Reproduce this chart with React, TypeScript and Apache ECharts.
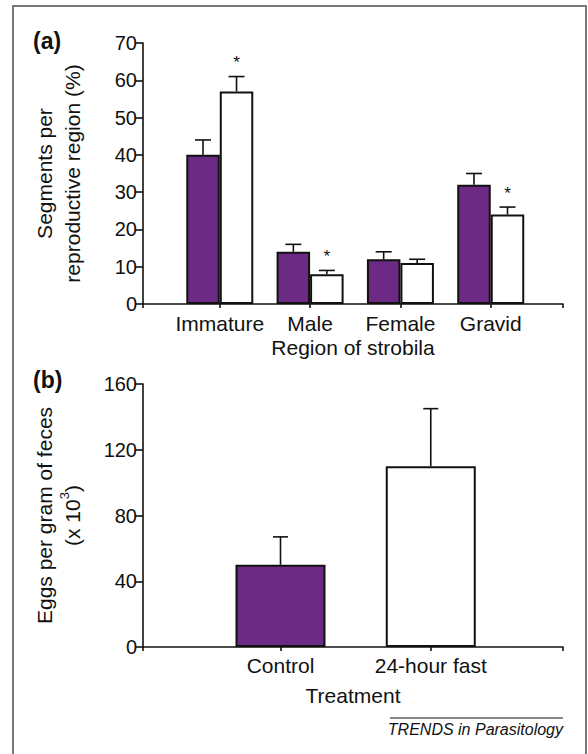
import React, { useEffect, useRef } from "react";
import * as echarts from "echarts";

// Panel (a): segments per reproductive region (%)
const categoriesA = ["Immature", "Male", "Female", "Gravid"];
const controlA = [40, 14, 12, 32];
const controlErrA = [4, 2, 2, 3];
const fastA = [57, 8, 11, 24];
const fastErrA = [4, 1, 1, 2];
const fastStarA = [1, 1, 0, 1];

// Panel (b): eggs per gram of feces (x10^3)
const categoriesB = ["Control", "24-hour fast"];
const valuesB = [50, 110];
const errB = [17, 35];

const PURPLE = "#6c2a84";
const INK = "#111";
const FONT = "Liberation Sans, Arial, Helvetica, sans-serif";

export default function App() {
  const ref = useRef<HTMLDivElement>(null);

  useEffect(() => {
    if (!ref.current) return;
    const chart = echarts.init(ref.current, undefined, { renderer: "svg" });

    const barWA = 33.5;
    const posA = categoriesA.map((_, i) => i + 1);
    const posB = categoriesB.map((_, i) => i + 1);

    const errRender = (capW: number) => (params: any, api: any) => {
      const x = api.value(0);
      const v = api.value(1);
      const e = api.value(2);
      const off = api.value(3);
      const star = api.value(4);
      const base = api.coord([x, v]);
      const top = api.coord([x, v + e]);
      const cx = base[0] + off;
      const children: any[] = [
        {
          type: "line",
          shape: { x1: cx, y1: base[1], x2: cx, y2: top[1] },
          style: { stroke: INK, lineWidth: 1.6 },
        },
        {
          type: "line",
          shape: { x1: cx - capW / 2, y1: top[1], x2: cx + capW / 2, y2: top[1] },
          style: { stroke: INK, lineWidth: 1.6 },
        },
      ];
      if (star) {
        children.push({
          type: "text",
          x: cx,
          y: top[1] - 14,
          style: {
            text: "*",
            fill: INK,
            font: `17px ${FONT}`,
            align: "center",
            verticalAlign: "middle",
          },
        });
      }
      return { type: "group", children };
    };

    const yAxisCommon = {
      type: "value",
      axisLine: { show: true, lineStyle: { color: INK, width: 1.6 } },
      axisTick: { show: true, length: 8, lineStyle: { color: INK, width: 1.6 } },
      axisLabel: { color: INK, fontSize: 20, fontFamily: FONT, margin: 6 },
      splitLine: { show: false },
      nameLocation: "middle",
      nameTextStyle: { color: INK, fontSize: 21, fontFamily: FONT, lineHeight: 28 },
    };

    const option: any = {
      animation: false,
      backgroundColor: "#fff",
      grid: [
        { left: 143, right: 25, top: 43, bottom: 450 },
        { left: 143, right: 25, top: 384, bottom: 107 },
      ],
      xAxis: [
        {
          type: "value",
          gridIndex: 0,
          min: 0.15,
          max: 4.8,
          axisLine: { show: true, onZero: false, lineStyle: { color: INK, width: 1.6 } },
          axisTick: {
            show: true,
            length: 4,
            customValues: [0.15, 1, 2, 3, 4, 4.8],
            lineStyle: { color: INK, width: 1.6 },
          },
          axisLabel: {
            customValues: posA,
            formatter: (v: number) => categoriesA[Math.round(v) - 1] || "",
            color: INK,
            fontSize: 21,
            fontFamily: FONT,
            margin: 9,
          },
          splitLine: { show: false },
          name: "Region of strobila",
          nameLocation: "middle",
          nameGap: 33,
          nameTextStyle: { color: INK, fontSize: 21, fontFamily: FONT },
        },
        {
          type: "value",
          gridIndex: 1,
          min: 0.085,
          max: 2.88,
          axisLine: { show: true, onZero: false, lineStyle: { color: INK, width: 1.6 } },
          axisTick: {
            show: true,
            length: 4,
            customValues: [0.085, 1, 2, 2.88],
            lineStyle: { color: INK, width: 1.6 },
          },
          axisLabel: {
            customValues: posB,
            formatter: (v: number) => categoriesB[Math.round(v) - 1] || "",
            color: INK,
            fontSize: 21,
            fontFamily: FONT,
            margin: 8,
          },
          splitLine: { show: false },
          name: "Treatment",
          nameLocation: "middle",
          nameGap: 38,
          nameTextStyle: { color: INK, fontSize: 21, fontFamily: FONT },
        },
      ],
      yAxis: [
        {
          ...yAxisCommon,
          gridIndex: 0,
          min: 0,
          max: 70,
          interval: 10,
          name: "Segments per\nreproductive region (%)",
          nameGap: 57,
        },
        {
          ...yAxisCommon,
          gridIndex: 1,
          min: 0,
          max: 160,
          interval: 40,
          name: "Eggs per gram of feces\n(x 10{sup|3})",
          nameGap: 57,
          nameTextStyle: {
            color: INK,
            fontSize: 21,
            fontFamily: FONT,
            lineHeight: 28,
            rich: {
              sup: { fontSize: 13, fontFamily: FONT, color: INK, verticalAlign: "top", lineHeight: 14, padding: [0, 0, 8, 0] },
            },
          },
        },
      ],
      series: [
        {
          type: "bar",
          xAxisIndex: 0,
          yAxisIndex: 0,
          barWidth: barWA,
          barGap: "0%",
          data: controlA.map((v, i) => [posA[i], v]),
          itemStyle: { color: PURPLE, borderColor: INK, borderWidth: 2 },
        },
        {
          type: "bar",
          xAxisIndex: 0,
          yAxisIndex: 0,
          barWidth: barWA,
          barGap: "0%",
          data: fastA.map((v, i) => [posA[i], v]),
          itemStyle: { color: "#fff", borderColor: INK, borderWidth: 2 },
        },
        {
          type: "custom",
          xAxisIndex: 0,
          yAxisIndex: 0,
          clip: false,
          encode: { x: 0, y: 1 },
          renderItem: errRender(16),
          data: [
            ...controlA.map((v, i) => [posA[i], v, controlErrA[i], -barWA / 2, 0]),
            ...fastA.map((v, i) => [posA[i], v, fastErrA[i], barWA / 2, fastStarA[i]]),
          ],
          z: 5,
        },
        {
          type: "bar",
          xAxisIndex: 1,
          yAxisIndex: 1,
          barWidth: 90,
          data: valuesB.map((v, i) => ({
            value: [posB[i], v],
            itemStyle: { color: i === 0 ? PURPLE : "#fff", borderColor: INK, borderWidth: 2 },
          })),
        },
        {
          type: "custom",
          xAxisIndex: 1,
          yAxisIndex: 1,
          clip: false,
          encode: { x: 0, y: 1 },
          renderItem: errRender(15),
          data: valuesB.map((v, i) => [posB[i], v, errB[i], 0, 0]),
          z: 5,
        },
      ],
      graphic: [
        {
          type: "rect",
          shape: { x: 13, y: 6, width: 573, height: 770 },
          style: { fill: "none", stroke: "#777", lineWidth: 2 },
          silent: true,
        },
        {
          type: "text",
          left: 33,
          top: 29,
          style: { text: "(a)", fill: INK, font: `bold 23px ${FONT}` },
        },
        {
          type: "text",
          left: 33,
          top: 368,
          style: { text: "(b)", fill: INK, font: `bold 23px ${FONT}` },
        },
        {
          type: "line",
          shape: { x1: 390, y1: 718, x2: 563, y2: 718 },
          style: { stroke: INK, lineWidth: 1 },
        },
        {
          type: "text",
          x: 563,
          y: 729,
          style: {
            text: "TRENDS in Parasitology",
            fill: INK,
            font: `italic 16px ${FONT}`,
            align: "right",
            verticalAlign: "middle",
          },
        },
      ],
    };

    chart.setOption(option);
    return () => chart.dispose();
  }, []);

  return (
    <div
      ref={ref}
      style={{ position: "fixed", left: 0, top: 0, width: 588, height: 754, background: "#fff" }}
    />
  );
}
